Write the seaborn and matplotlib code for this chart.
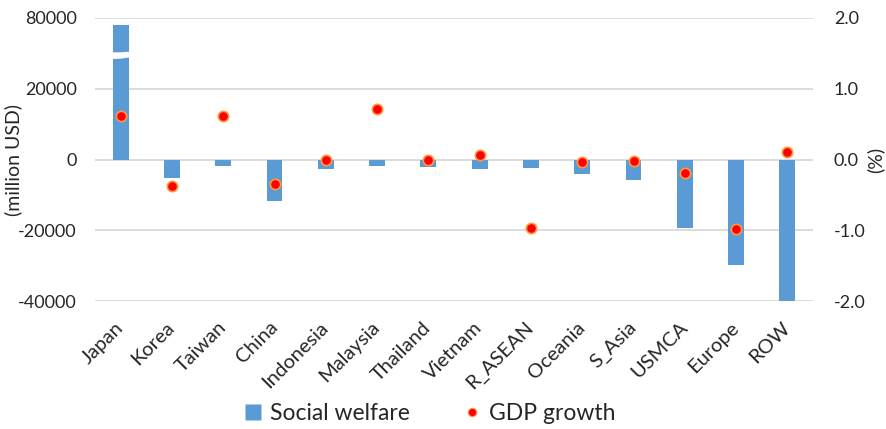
import numpy as np
import matplotlib
matplotlib.use("Agg")
import matplotlib.pyplot as plt
from matplotlib.lines import Line2D
from matplotlib.ticker import FixedLocator, FuncFormatter
import seaborn as sns

# Regions and results
regions = ["Japan", "Korea", "Taiwan", "China", "Indonesia", "Malaysia", "Thailand",
           "Vietnam", "R_ASEAN", "Oceania", "S_Asia", "USMCA", "Europe", "ROW"]
social_welfare = [78000, -5100, -1800, -11700, -2700, -1800, -2100,
                  -2700, -2300, -4200, -5800, -19500, -29800, -40000]
gdp_growth = [0.61, -0.38, 0.62, -0.35, 0.0, 0.71, 0.0,
              0.06, -0.97, -0.04, -0.02, -0.19, -0.98, 0.10]
left_ticks = [-40000, -20000, 0, 20000, 80000]
right_ticks = [-2.0, -1.0, 0.0, 1.0, 2.0]

BAR_BLUE = "#5B9BD5"
DOT_RED = "#FF0000"
DOT_EDGE = "#FF9A3C"
GRID = "#D9D9D9"
TEXT = "#262626"

sns.set_theme(style="white")
plt.rcParams["font.family"] = ["Lato", "DejaVu Sans"]

# Broken left axis: values above the break are shifted down by GAP
BREAK_LO, GAP = 30000, 40000


def fwd(v):
    v = np.asarray(v, dtype=float)
    return np.where(v <= BREAK_LO, v,
                    np.where(v >= BREAK_LO + GAP, v - GAP, BREAK_LO))


def inv(u):
    u = np.asarray(u, dtype=float)
    return np.where(u <= BREAK_LO, u, u + GAP)


fig = plt.figure(figsize=(8.87, 4.29), dpi=100)
ax = fig.add_axes([95 / 887, 1 - 301 / 429, (813 - 95) / 887, (301 - 18) / 429])
ax.set_yscale("function", functions=(fwd, inv))

sns.barplot(x=regions, y=social_welfare, ax=ax, color=BAR_BLUE, saturation=1,
            width=0.31, linewidth=0, zorder=2)
ax.set_ylim(-40000, 80000)
ax.set_xlim(-0.5, len(regions) - 0.5)

# White cut across the Japan bar marking the axis break
jx = 0
ax.add_patch(plt.Polygon([(jx - 0.2, 28400), (jx, 28500), (jx + 0.2, 28900),
                          (jx + 0.2, 70500), (jx, 70300), (jx - 0.2, 70300)],
                         closed=True, facecolor="white", edgecolor="none", zorder=3))

ax.yaxis.set_major_locator(FixedLocator(left_ticks))
ax.yaxis.set_major_formatter(FuncFormatter(lambda v, p: f"{v:.0f}"))
ax.yaxis.grid(True, color=GRID, linewidth=1.3, zorder=0)
ax.set_axisbelow(True)
for s in ax.spines.values():
    s.set_visible(False)
ax.tick_params(axis="y", length=0, pad=13, labelsize=13, labelcolor=TEXT)
ax.tick_params(axis="x", length=0, pad=17, labelsize=14.5, labelcolor=TEXT)
for lab in ax.get_xticklabels():
    lab.set_rotation(45)
    lab.set_ha("right")
    lab.set_va("center")
    lab.set_rotation_mode("anchor")
ax.set_ylabel("(million USD)", fontsize=14, color=TEXT)
ax.yaxis.set_label_coords((22 - 95) / 718, 0.5)
ax.set_xlabel("")

ax2 = ax.twinx()
sns.scatterplot(x=regions, y=gdp_growth, ax=ax2, color=DOT_RED, s=55,
                edgecolor=DOT_EDGE, linewidth=1.2, zorder=5, legend=False)
ax2.set_ylim(-2, 2)
ax2.yaxis.set_major_locator(FixedLocator(right_ticks))
ax2.yaxis.set_major_formatter(FuncFormatter(lambda v, p: f"{v:.1f}"))
ax2.grid(False)
for s in ax2.spines.values():
    s.set_visible(False)
ax2.tick_params(axis="y", length=0, pad=15, labelsize=13, labelcolor=TEXT)
ax2.set_ylabel("(%)", fontsize=14, color=TEXT, rotation=90)
ax2.yaxis.set_label_coords((866 - 95) / 718, 0.5)
ax2.set_xlabel("")

handles = [
    Line2D([], [], linestyle="none", marker="s", markersize=11,
           markerfacecolor=BAR_BLUE, markeredgecolor="none"),
    Line2D([], [], linestyle="none", marker="o", markersize=6,
           markerfacecolor=DOT_RED, markeredgecolor=DOT_EDGE, markeredgewidth=0.8),
]
fig.legend(handles, ["Social welfare", "GDP growth"], loc="center",
           bbox_to_anchor=(0.483, 0.035), ncol=2, frameon=False,
           fontsize=16.5, handletextpad=0.25, columnspacing=2.2, handlelength=1.0,
           labelcolor=TEXT)

fig.savefig("out.png", dpi=100)
